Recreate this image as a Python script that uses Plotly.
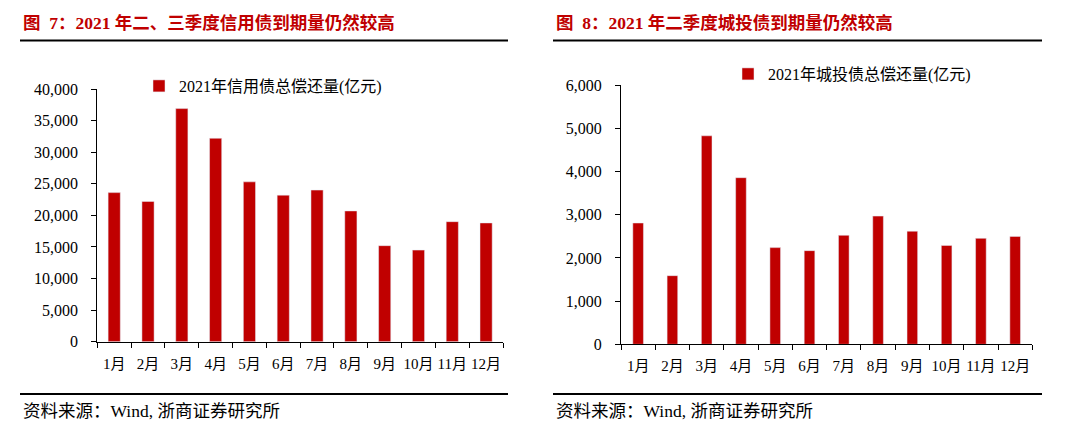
import plotly.graph_objects as go

months = ["1月", "2月", "3月", "4月", "5月", "6月", "7月", "8月", "9月", "10月", "11月", "12月"]
credit_values = [23600, 22200, 36900, 32200, 25300, 23200, 24000, 20700, 15200, 14500, 19000, 18800]
lgfv_values = [2810, 1590, 4830, 3860, 2240, 2170, 2525, 2970, 2620, 2290, 2455, 2500]

credit_name = "2021年信用债总偿还量(亿元)"
lgfv_name = "2021年城投债总偿还量(亿元)"
title_left = "图  7：2021 年二、三季度信用债到期量仍然较高"
title_right = "图  8：2021 年二季度城投债到期量仍然较高"
source_text = "资料来源：Wind, 浙商证券研究所"

RED = "#C00000"
FONT = "Liberation Serif, Noto Sans CJK SC, serif"
W, H = 1080, 423

def px(x):
    return x / W

def py(y):
    return 1 - y / H

fig = go.Figure()
fig.add_trace(go.Bar(x=months, y=credit_values, name=credit_name, marker_color=RED,
                     xaxis="x", yaxis="y", legend="legend", width=0.36))
fig.add_trace(go.Bar(x=months, y=lgfv_values, name=lgfv_name, marker_color=RED,
                     xaxis="x2", yaxis="y2", legend="legend2", width=0.31))

axis_common = dict(showline=True, linecolor="#000", linewidth=1, showgrid=False, zeroline=False,
                   ticks="outside", ticklen=5, tickcolor="#000")
xfont = dict(family=FONT, size=15, color="#000")
yfont = dict(family=FONT, size=16, color="#000")

fig.update_layout(
    width=W, height=H, margin=dict(l=0, r=0, t=0, b=0, autoexpand=False),
    paper_bgcolor="white", plot_bgcolor="white",
    font=dict(family=FONT, color="#000"),
    xaxis=dict(domain=[px(97.3), px(503)], anchor="y", tickson="boundaries", tickangle=0,
               ticklabelstandoff=8, automargin=False, tickfont=xfont, **axis_common),
    yaxis=dict(domain=[py(341.7), py(89)], anchor="x", range=[0, 40000], tickvals=list(range(0, 40001, 5000)),
               tickformat=",d", ticklabelstandoff=10, automargin=False, tickfont=yfont, **axis_common),
    xaxis2=dict(domain=[px(621), px(1032.3)], anchor="y2", tickson="boundaries", tickangle=0,
                ticklabelstandoff=8, automargin=False, tickfont=xfont, **axis_common),
    yaxis2=dict(domain=[py(344.3), py(85.3)], anchor="x2", range=[0, 6000], tickvals=list(range(0, 6001, 1000)),
                tickformat=",d", ticklabelstandoff=10, automargin=False, tickfont=yfont, **axis_common),
    legend=dict(x=px(139), y=py(86), xanchor="left", yanchor="middle", bgcolor="rgba(0,0,0,0)",
                font=dict(family=FONT, size=16, color="#000"), itemwidth=30),
    legend2=dict(x=px(728), y=py(74), xanchor="left", yanchor="middle", bgcolor="rgba(0,0,0,0)",
                 font=dict(family=FONT, size=16, color="#000"), itemwidth=30),
    showlegend=True,
)

for x0, x1, title in [(20, 508, title_left), (553, 1042, title_right)]:
    fig.add_annotation(x=px(x0 + 1), y=py(23), xref="paper", yref="paper", xanchor="left", yanchor="middle",
                       text="<b>" + title + "</b>", showarrow=False,
                       font=dict(family=FONT, size=17.5, color=RED))
    fig.add_shape(type="line", xref="paper", yref="paper", x0=px(x0), x1=px(x1), y0=py(40.5), y1=py(40.5),
                  line=dict(color="#000", width=2))
    fig.add_shape(type="line", xref="paper", yref="paper", x0=px(x0), x1=px(x1), y0=py(394), y1=py(394),
                  line=dict(color="#000", width=2))
    fig.add_annotation(x=px(x0 + 1), y=py(411), xref="paper", yref="paper", xanchor="left", yanchor="middle",
                       text=source_text, showarrow=False,
                       font=dict(family=FONT, size=17.5, color="#000"))

fig.write_html("out.html", config={"displayModeBar": False},
               post_script="document.body.style.margin='0';document.body.style.overflow='hidden';")
